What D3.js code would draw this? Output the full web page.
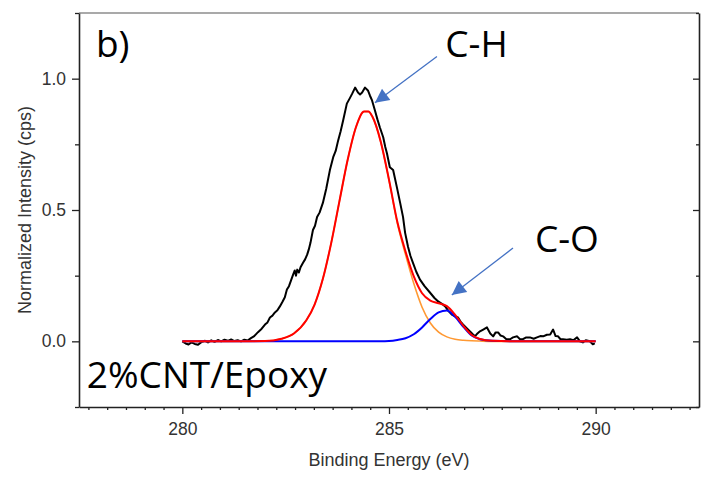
<!DOCTYPE html>
<html>
<head>
<meta charset="utf-8">
<script src="https://cdn.jsdelivr.net/npm/d3@7"></script>
<style>
  html, body { margin: 0; padding: 0; background: #fff; }
  svg { display: block; }
</style>
</head>
<body>
<div id="chart"></div>
<script>
// Data: raw XPS C1s spectrum (black)
const rawEnergy = [
  280.00, 280.08, 280.15, 280.22, 280.30, 280.38, 280.46, 280.55, 280.62, 280.70,
  280.78, 280.86, 280.94, 281.02, 281.10, 281.18, 281.26, 281.34, 281.42, 281.50,
  281.58, 281.66, 281.74, 281.83, 281.92, 282.00, 282.06, 282.12, 282.18, 282.24,
  282.30, 282.36, 282.42, 282.48, 282.53, 282.58, 282.63, 282.68, 282.72, 282.75,
  282.78, 282.82, 282.86, 282.92, 282.97, 283.02, 283.06, 283.10, 283.16, 283.21,
  283.26, 283.32, 283.40, 283.48, 283.57, 283.65, 283.71, 283.77, 283.83, 283.89,
  283.98, 284.05, 284.11, 284.18, 284.25, 284.30, 284.35, 284.42, 284.49, 284.54,
  284.59, 284.66, 284.72, 284.78, 284.86, 284.91, 284.95, 285.02, 285.10, 285.19,
  285.27, 285.34, 285.39, 285.46, 285.52, 285.58, 285.66, 285.75, 285.86, 285.99,
  286.10, 286.19, 286.28, 286.36, 286.44, 286.52, 286.60, 286.67, 286.73, 286.79,
  286.88, 286.96, 287.02, 287.08, 287.14, 287.20, 287.28, 287.37, 287.45, 287.52,
  287.58, 287.64, 287.70, 287.76, 287.84, 287.93, 288.00, 288.10, 288.17, 288.24,
  288.32, 288.41, 288.50, 288.58, 288.66, 288.73, 288.82, 288.90, 288.97, 289.03,
  289.09, 289.15, 289.21, 289.30, 289.38, 289.46, 289.55, 289.62, 289.69, 289.76,
  289.86, 289.93, 289.98
];
const rawIntensity = [
  0.000, -0.008, -0.012, -0.004, -0.010, -0.013, -0.003, 0.002, -0.004, 0.004,
  -0.002, 0.005, 0.000, 0.006, 0.002, 0.007, 0.001, 0.004, 0.000, 0.006,
  0.003, 0.012, 0.020, 0.035, 0.048, 0.064, 0.072, 0.091, 0.098, 0.110,
  0.118, 0.133, 0.150, 0.168, 0.197, 0.210, 0.232, 0.254, 0.270, 0.250,
  0.273, 0.262, 0.282, 0.299, 0.312, 0.330, 0.350, 0.375, 0.424, 0.440,
  0.473, 0.490, 0.527, 0.580, 0.652, 0.701, 0.725, 0.765, 0.800, 0.841,
  0.905, 0.925, 0.943, 0.966, 0.947, 0.940, 0.947, 0.966, 0.955, 0.935,
  0.917, 0.879, 0.845, 0.814, 0.777, 0.740, 0.716, 0.663, 0.652, 0.587,
  0.527, 0.473, 0.413, 0.360, 0.325, 0.299, 0.265, 0.235, 0.210, 0.186,
  0.165, 0.152, 0.143, 0.133, 0.115, 0.102, 0.095, 0.091, 0.075, 0.064,
  0.050, 0.038, 0.028, 0.019, 0.030, 0.038, 0.045, 0.053, 0.030, 0.019,
  0.034, 0.034, 0.022, 0.019, 0.008, 0.008, 0.015, 0.019, 0.008, 0.008,
  0.015, 0.015, 0.010, 0.015, 0.020, 0.019, 0.025, 0.026, 0.045, 0.020,
  0.019, 0.008, 0.008, 0.006, 0.008, 0.004, 0.015, 0.000, -0.004, 0.004,
  0.000, -0.011, -0.008
];

// Fitted peaks (read on a common energy grid)
const fitEnergy = [
  280, 281, 282, 282.4, 282.7, 283.0, 283.2, 283.4, 283.6, 283.8,
  284.0, 284.2, 284.4, 284.5, 284.6, 284.8, 285.0, 285.2, 285.4, 285.6,
  285.8, 286.0, 286.2, 286.4, 286.6, 286.8, 287.0, 287.2, 287.5, 288,
  289, 290
];
const fitCH = [
  0, 0, 0.001, 0.010, 0.030, 0.080, 0.140, 0.238, 0.373, 0.533,
  0.691, 0.815, 0.875, 0.875, 0.855, 0.760, 0.614, 0.451, 0.330, 0.220,
  0.130, 0.070, 0.035, 0.017, 0.008, 0.004, 0.002, 0.001, 0, 0,
  0, 0
];
const fitCO = [
  0, 0, 0, 0, 0, 0, 0, 0, 0, 0,
  0, 0, 0, 0, 0, 0, 0.001, 0.005, 0.012, 0.027,
  0.053, 0.085, 0.110, 0.117, 0.093, 0.055, 0.022, 0.008, 0.002, 0,
  0, 0
];
const fitEnvelope = [
  0, 0, 0.001, 0.010, 0.030, 0.080, 0.140, 0.238, 0.373, 0.533,
  0.691, 0.815, 0.875, 0.875, 0.855, 0.760, 0.615, 0.456, 0.342, 0.247,
  0.183, 0.155, 0.145, 0.134, 0.101, 0.059, 0.024, 0.009, 0.002, 0,
  0, 0
];

// Axes
const xDomain = [277.5, 292.5];
const yDomain = [-0.25, 1.25];
const xMajorTicks = [280, 285, 290];
const yMajorTicks = [0, 0.5, 1.0];
const yMinorTicks = [-0.25, 0.25, 0.75, 1.25];
const xMinorPerMajor = 11; // intervals between major x ticks

// Annotations (data units)
const labels = [
  { text: "b)", x: 277.91, y: 1.082 },
  { text: "C-H", x: 286.36, y: 1.082 },
  { text: "C-O", x: 288.53, y: 0.340 },
  { text: "2%CNT/Epoxy", x: 277.69, y: -0.178 }
];
const arrows = [
  { x1: 286.16, y1: 1.084, x2: 284.66, y2: 0.908 },
  { x1: 288.0, y1: 0.355, x2: 286.52, y2: 0.176 }
];

// Dimensions
const dimensions = { width: 704, height: 477, left: 79, right: 699, top: 13, bottom: 407 };

const svg = d3.select("#chart")
  .append("svg")
  .attr("width", dimensions.width)
  .attr("height", dimensions.height);

const xScale = d3.scaleLinear().domain(xDomain).range([dimensions.left, dimensions.right]);
const yScale = d3.scaleLinear().domain(yDomain).range([dimensions.bottom, dimensions.top]);

const xMinorTicks = d3.range(-5, 28)
  .map((k) => 280 + k * 5 / xMinorPerMajor)
  .filter((v) => v > xDomain[0] && v < xDomain[1] && !xMajorTicks.some((m) => Math.abs(m - v) < 1e-6));

// Frame: top grey line, right black
svg.append("line")
  .attr("x1", dimensions.left).attr("x2", dimensions.right)
  .attr("y1", dimensions.top).attr("y2", dimensions.top)
  .attr("stroke", "#8c8c8c").attr("stroke-width", 1.5);

const tickFont = (g) => g.selectAll("text")
  .attr("font-family", "'Liberation Sans', Arial, sans-serif")
  .attr("font-size", 17.5)
  .attr("fill", "#333");

// x axis
svg.append("g")
  .attr("transform", `translate(0, ${dimensions.bottom})`)
  .call(d3.axisBottom(xScale).tickValues(xMinorTicks).tickSize(3).tickFormat(""))
  .call((g) => g.select(".domain").remove())
  .call((g) => g.selectAll("line").attr("stroke", "#222").attr("stroke-width", 1.3));

svg.append("g")
  .attr("transform", `translate(0, ${dimensions.bottom})`)
  .call(d3.axisBottom(xScale).tickValues(xMajorTicks).tickSize(7).tickSizeOuter(0).tickPadding(9).tickFormat(d3.format("d")))
  .call((g) => g.select(".domain").attr("stroke", "#222").attr("stroke-width", 1.6))
  .call((g) => g.selectAll("line").attr("stroke", "#222").attr("stroke-width", 1.3))
  .call(tickFont);

// y axis left
svg.append("g")
  .attr("transform", `translate(${dimensions.left}, 0)`)
  .call(d3.axisLeft(yScale).tickValues(yMinorTicks).tickSize(4).tickFormat(""))
  .call((g) => g.select(".domain").remove())
  .call((g) => g.selectAll("line").attr("stroke", "#222").attr("stroke-width", 1.3));

svg.append("g")
  .attr("transform", `translate(${dimensions.left}, 0)`)
  .call(d3.axisLeft(yScale).tickValues(yMajorTicks).tickSize(7).tickSizeOuter(0).tickPadding(6).tickFormat(d3.format(".1f")))
  .call((g) => g.select(".domain").attr("stroke", "#222").attr("stroke-width", 1.6))
  .call((g) => g.selectAll("line").attr("stroke", "#222").attr("stroke-width", 1.3))
  .call(tickFont);

// y axis right (inward ticks)
svg.append("g")
  .attr("transform", `translate(${dimensions.right}, 0)`)
  .call(d3.axisLeft(yScale).tickValues(yMinorTicks).tickSize(3).tickFormat(""))
  .call((g) => g.select(".domain").remove())
  .call((g) => g.selectAll("line").attr("stroke", "#222").attr("stroke-width", 1.3));

svg.append("g")
  .attr("transform", `translate(${dimensions.right}, 0)`)
  .call(d3.axisLeft(yScale).tickValues(yMajorTicks).tickSize(6).tickSizeOuter(0).tickFormat(""))
  .call((g) => g.select(".domain").attr("stroke", "#222").attr("stroke-width", 1.6))
  .call((g) => g.selectAll("line").attr("stroke", "#222").attr("stroke-width", 1.3));

// Axis titles
svg.append("text")
  .attr("x", (dimensions.left + dimensions.right) / 2)
  .attr("y", 466)
  .attr("text-anchor", "middle")
  .attr("font-family", "'Liberation Sans', Arial, sans-serif")
  .attr("font-size", 18)
  .attr("fill", "#333")
  .text("Binding Energy (eV)");

svg.append("text")
  .attr("transform", `translate(31, ${(dimensions.top + dimensions.bottom) / 2}) rotate(-90)`)
  .attr("text-anchor", "middle")
  .attr("font-family", "'Liberation Sans', Arial, sans-serif")
  .attr("font-size", 18)
  .attr("fill", "#333")
  .text("Normalized Intensity (cps)");

// Lines
const rawPoints = rawEnergy.map((e, i) => [e, rawIntensity[i]]);
const rawLine = d3.line().x((d) => xScale(d[0])).y((d) => yScale(d[1]));
const fitLine = d3.line().x((d) => xScale(d[0])).y((d) => yScale(d[1])).curve(d3.curveMonotoneX);

const plot = svg.append("g");

plot.append("path")
  .datum(rawPoints)
  .attr("d", rawLine)
  .attr("fill", "none")
  .attr("stroke", "#000")
  .attr("stroke-width", 2)
  .attr("stroke-linejoin", "round");

const fits = [
  { values: fitCH, color: "#ff9933", width: 1.6 },
  { values: fitCO, color: "#0000ff", width: 2 },
  { values: fitEnvelope, color: "#ff0000", width: 2 }
];

plot.selectAll(".fit")
  .data(fits)
  .join("path")
  .attr("class", "fit")
  .attr("d", (f) => fitLine(fitEnergy.map((e, i) => [e, f.values[i]])))
  .attr("fill", "none")
  .attr("stroke", (f) => f.color)
  .attr("stroke-width", (f) => f.width);

// Arrows
svg.append("defs")
  .append("marker")
  .attr("id", "head")
  .attr("viewBox", "0 0 10 10")
  .attr("refX", 10).attr("refY", 5)
  .attr("markerUnits", "userSpaceOnUse")
  .attr("markerWidth", 17).attr("markerHeight", 14)
  .attr("orient", "auto")
  .append("path")
  .attr("d", "M0,0 L10,5 L0,10 Z")
  .attr("fill", "#4472c4");

svg.selectAll(".arrow")
  .data(arrows)
  .join("line")
  .attr("class", "arrow")
  .attr("x1", (d) => xScale(d.x1)).attr("y1", (d) => yScale(d.y1))
  .attr("x2", (d) => xScale(d.x2)).attr("y2", (d) => yScale(d.y2))
  .attr("stroke", "#4472c4")
  .attr("stroke-width", 1.3)
  .attr("marker-end", "url(#head)");

// Labels
svg.selectAll(".label")
  .data(labels)
  .join("text")
  .attr("class", "label")
  .attr("x", (d) => xScale(d.x))
  .attr("y", (d) => yScale(d.y))
  .attr("font-family", "'Open Sans', sans-serif")
  .attr("font-size", 37)
  .attr("fill", "#000")
  .text((d) => d.text);
</script>
</body>
</html>
